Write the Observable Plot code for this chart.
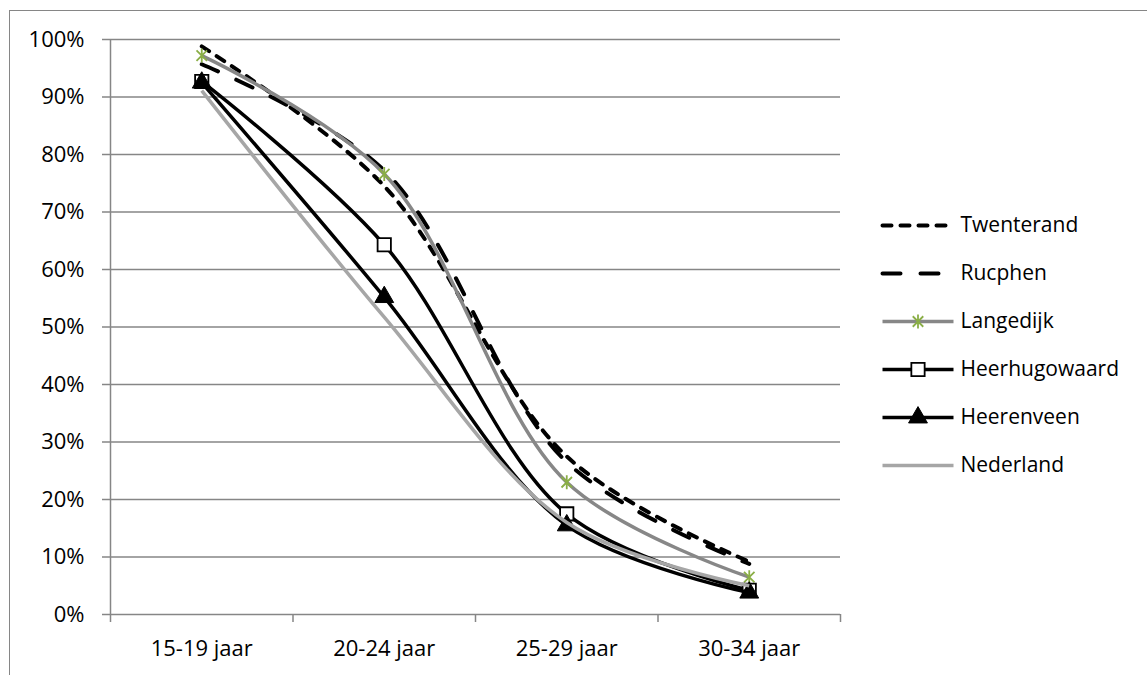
<!DOCTYPE html>
<html><head><meta charset="utf-8">
<script src="https://cdn.jsdelivr.net/npm/d3@7"></script>
<script src="https://cdn.jsdelivr.net/npm/@observablehq/plot@0.6"></script>
<style>
html,body{margin:0;padding:0;background:#fff;}
#wrap{position:relative;width:1147px;height:675px;overflow:hidden;font-family:"Open Sans",sans-serif;background:#fff;}
#frame{position:absolute;left:9px;top:10px;width:1300px;height:800px;border:1px solid #868686;box-sizing:border-box;}
#chart{position:absolute;left:0;top:0;}
#legend{position:absolute;left:870px;top:200px;}
</style></head><body>
<div id="wrap"><div id="frame"></div><div id="chart"></div><div id="legend"></div></div>
<script>
// ---- data ----
const categories = ["15-19 jaar", "20-24 jaar", "25-29 jaar", "30-34 jaar"];
const seriesNames = ["Twenterand", "Rucphen", "Langedijk", "Heerhugowaard", "Heerenveen", "Nederland"];
const twenterand    = [0.988, 0.745, 0.275, 0.092];
const rucphen       = [0.957, 0.772, 0.265, 0.088];
const langedijk     = [0.972, 0.766, 0.230, 0.065];
const heerhugowaard = [0.927, 0.643, 0.175, 0.042];
const heerenveen    = [0.925, 0.552, 0.155, 0.038];
const nederland     = [0.911, 0.517, 0.160, 0.050];
const yTicks = [0, 0.1, 0.2, 0.3, 0.4, 0.5, 0.6, 0.7, 0.8, 0.9, 1.0];

const values = [twenterand, rucphen, langedijk, heerhugowaard, heerenveen, nederland];

// ---- styles ----
const starSymbol = {
  draw(ctx, size) {
    const r = Math.sqrt(size / Math.PI), k = r * 0.75;
    ctx.moveTo(0, -r); ctx.lineTo(0, r);
    ctx.moveTo(-k, -k); ctx.lineTo(k, k);
    ctx.moveTo(-k, k); ctx.lineTo(k, -k);
  }
};
const styles = [
  {stroke: "#000", strokeWidth: 4, strokeDasharray: "9,9"},
  {stroke: "#000", strokeWidth: 4, strokeDasharray: "18,20"},
  {stroke: "#878787", strokeWidth: 3.5, marker: {symbol: starSymbol, r: 7, stroke: "#8aae46", fill: "none", strokeWidth: 1.8}},
  {stroke: "#000", strokeWidth: 3.5, marker: {symbol: "square", r: 7.5, stroke: "#000", fill: "#fff", strokeWidth: 1.8}},
  {stroke: "#000", strokeWidth: 3.5, marker: {symbol: "triangle", r: 7, stroke: "#000", fill: "#000", strokeWidth: 1}},
  {stroke: "#a6a6a6", strokeWidth: 3.5}
];

const grid = "#868686";
const marks = [];
marks.push(Plot.ruleY(yTicks, {stroke: grid, strokeWidth: 1.5}));
marks.push(Plot.ruleX([0], {y1: 0, y2: 1, stroke: grid, strokeWidth: 1.5}));
marks.push(Plot.axisY({ticks: yTicks, tickFormat: d3.format(".0%"), tickSize: 8, tickPadding: 18, stroke: grid, strokeWidth: 1.5, fill: "#000", label: null}));
marks.push(Plot.axisX({ticks: [0, 1, 2, 3, 4], tickSize: 8, tickFormat: () => "", stroke: grid, strokeWidth: 1.5, label: null}));
marks.push(Plot.axisX({ticks: categories.map((c, i) => i + 0.5), tickSize: 0, tickPadding: 26, tickFormat: d => categories[Math.floor(d)], fill: "#000", label: null}));

seriesNames.forEach((name, s) => {
  const rows = categories.map((c, i) => ({x: i + 0.5, y: values[s][i]}));
  const st = styles[s];
  marks.push(Plot.line(rows, {x: "x", y: "y", stroke: st.stroke, strokeWidth: st.strokeWidth,
    strokeDasharray: st.strokeDasharray, strokeLinecap: st.strokeDasharray ? "round" : "butt",
    curve: "catmull-rom"}));
  if (st.marker) {
    marks.push(Plot.dot(rows, {x: "x", y: "y", ...st.marker}));
  }
});

const chart = Plot.plot({
  width: 1147, height: 675,
  marginLeft: 110, marginRight: 307, marginTop: 39, marginBottom: 61,
  x: {domain: [0, 4]},
  y: {domain: [0, 1]},
  style: {fontFamily: "'Open Sans', sans-serif", fontSize: "22px", background: "transparent", color: "#000", overflow: "visible"},
  marks
});
document.getElementById("chart").appendChild(chart);

// ---- legend ----
const lmarks = [];
seriesNames.forEach((name, s) => {
  const st = styles[s];
  const rows = [{x: 0, y: name}, {x: 1, y: name}];
  lmarks.push(Plot.line(rows, {x: "x", y: "y", stroke: st.stroke, strokeWidth: st.strokeWidth,
    strokeDasharray: st.strokeDasharray, strokeLinecap: st.strokeDasharray ? "round" : "butt"}));
  if (st.marker) lmarks.push(Plot.dot([{x: 0.5, y: name}], {x: "x", y: "y", ...st.marker}));
  lmarks.push(Plot.text([{x: 1, y: name}], {x: "x", y: "y", text: () => name, textAnchor: "start", dx: 7, fill: "#000"}));
});
const legend = Plot.plot({
  width: 277, height: 290,
  margin: 0,
  x: {domain: [0, 1], range: [12, 83], axis: null},
  y: {type: "point", domain: seriesNames, range: [24, 266], padding: 0, axis: null},
  style: {fontFamily: "'Open Sans', sans-serif", fontSize: "21px", background: "transparent", color: "#000", overflow: "visible"},
  marks: lmarks
});
document.getElementById("legend").appendChild(legend);
</script>
</body></html>
